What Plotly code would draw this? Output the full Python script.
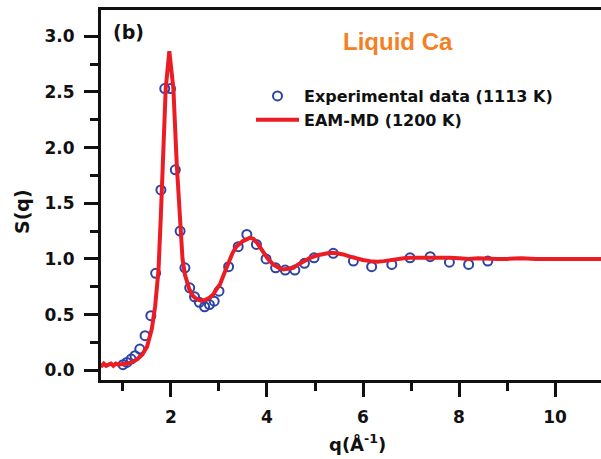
import plotly.graph_objects as go

# Experimental data (1113 K)
exp_q = [1.00, 1.08, 1.17, 1.25, 1.35, 1.46, 1.58, 1.68, 1.79, 1.87, 1.99, 2.09, 2.19,
         2.29, 2.39, 2.49, 2.59, 2.70, 2.80, 2.90, 3.00, 3.20, 3.40, 3.58, 3.78, 3.98,
         4.18, 4.38, 4.58, 4.78, 4.98, 5.38, 5.80, 6.18, 6.60, 6.98, 7.40, 7.80, 8.20, 8.60]
exp_s = [0.05, 0.07, 0.10, 0.13, 0.19, 0.31, 0.49, 0.87, 1.62, 2.53, 2.53, 1.80, 1.25,
         0.92, 0.74, 0.66, 0.61, 0.57, 0.59, 0.62, 0.71, 0.93, 1.11, 1.22, 1.13, 1.00,
         0.92, 0.90, 0.90, 0.96, 1.01, 1.05, 0.98, 0.93, 0.95, 1.01, 1.02, 0.97, 0.95, 0.98]

# EAM-MD (1200 K)
md_q = [0.50, 0.56, 0.60, 0.65, 0.70, 0.75, 0.80, 0.85, 0.90, 0.95, 1.00, 1.10, 1.20, 1.30,
        1.40, 1.50, 1.60, 1.67, 1.74, 1.79, 1.84, 1.89, 1.965, 2.05, 2.12, 2.19, 2.24, 2.29,
        2.38, 2.45, 2.53, 2.62, 2.71, 2.80, 2.88, 2.95, 3.02, 3.10, 3.19, 3.28, 3.36, 3.50,
        3.65, 3.72, 3.80, 3.92, 4.02, 4.13, 4.24, 4.34, 4.45, 4.55, 4.65, 4.76, 4.90, 5.03,
        5.17, 5.31, 5.45, 5.59, 5.73, 5.87, 6.00, 6.15, 6.30, 6.43, 6.57, 6.71, 6.85, 6.98,
        7.20, 7.40, 7.60, 7.81, 8.00, 8.20, 8.40, 8.60, 8.80, 9.00, 9.30, 9.60, 9.90, 10.20,
        10.50, 10.80, 11.00]
md_s = [0.05, 0.04, 0.06, 0.04, 0.05, 0.06, 0.04, 0.06, 0.05, 0.05, 0.055, 0.06, 0.075, 0.10,
        0.14, 0.21, 0.37, 0.575, 0.90, 1.40, 1.98, 2.53, 2.866, 2.53, 1.85, 1.26, 1.00, 0.86,
        0.73, 0.67, 0.64, 0.625, 0.63, 0.65, 0.68, 0.73, 0.77, 0.86, 0.965, 1.05, 1.11, 1.16,
        1.19, 1.18, 1.14, 1.06, 1.00, 0.95, 0.92, 0.905, 0.91, 0.92, 0.95, 0.98, 1.01, 1.03,
        1.045, 1.055, 1.05, 1.04, 1.02, 1.00, 0.99, 0.98, 0.975, 0.98, 0.99, 0.995, 1.005, 1.01,
        1.01, 1.015, 1.01, 1.01, 1.005, 1.00, 1.005, 1.00, 1.00, 1.00, 1.005, 1.00, 1.00, 1.005,
        1.00, 1.00, 1.00]

TICK_FONT = dict(family="DejaVu Sans", size=17, color="#111111", weight="bold")
TITLE_FONT = dict(family="DejaVu Sans", size=19, color="#111111", weight="bold")

fig = go.Figure()
fig.add_trace(go.Scatter(
    x=exp_q, y=exp_s, mode="markers", name="Experimental data (1113 K)",
    marker=dict(symbol="circle-open", size=9, color="#2d44a6", line=dict(width=2, color="#2d44a6")),
))
fig.add_trace(go.Scatter(
    x=md_q, y=md_s, mode="lines", name="EAM-MD (1200 K)",
    line=dict(color="#ec1c24", width=4),
))

fig.update_xaxes(
    range=[0.542, 10.958], showgrid=False, zeroline=False,
    showline=True, linewidth=3, linecolor="#111111", mirror=True,
    ticks="outside", ticklen=14, tickwidth=3, tickcolor="#111111",
    tick0=0, dtick=2, tickfont=TICK_FONT, ticklabelstandoff=6,
    minor=dict(ticks="outside", dtick=1, tick0=0, ticklen=8, tickwidth=3, tickcolor="#111111"),
)
fig.update_yaxes(
    range=[-0.088, 3.236], showgrid=False, zeroline=False,
    showline=True, linewidth=3, linecolor="#111111",
    ticks="outside", ticklen=14, tickwidth=3, tickcolor="#111111",
    tick0=0, dtick=0.5, tickformat=".1f", tickfont=TICK_FONT, ticklabelstandoff=6,
    minor=dict(ticks="outside", dtick=0.25, tick0=0, ticklen=8, tickwidth=3, tickcolor="#111111"),
)

# axis titles
fig.add_annotation(text="q(Å<sup>-1</sup>)", xref="paper", yref="paper", x=0.512, y=-0.170,
                   xanchor="center", yanchor="middle", showarrow=False,
                   font=dict(family="DejaVu Sans", size=18, color="#111111", weight="bold"))
fig.add_annotation(text="S(q)", xref="paper", yref="paper", x=-0.158, y=0.454,
                   xanchor="center", yanchor="middle", showarrow=False, textangle=-90,
                   font=TITLE_FONT)

fig.add_annotation(text="(b)", xref="paper", yref="paper", x=0.055, y=0.94,
                   xanchor="center", yanchor="middle", showarrow=False,
                   font=dict(family="DejaVu Sans", size=19, color="#111111", weight="bold"))
fig.add_annotation(text="Liquid Ca", xref="paper", yref="paper", x=0.594, y=0.915,
                   xanchor="center", yanchor="middle", showarrow=False,
                   font=dict(family="Liberation Sans", size=24, color="#f48024", weight="bold"))

fig.update_layout(
    width=601, height=459,
    margin=dict(l=101, r=0, t=10, b=79),
    paper_bgcolor="white", plot_bgcolor="white",
    showlegend=True,
    legend=dict(x=0.30, y=0.8135, xanchor="left", yanchor="top", bgcolor="rgba(0,0,0,0)",
                font=dict(family="DejaVu Sans", size=16, color="#111111", weight="bold"),
                itemwidth=43, tracegroupgap=0),
)

fig.write_html("out.html")
